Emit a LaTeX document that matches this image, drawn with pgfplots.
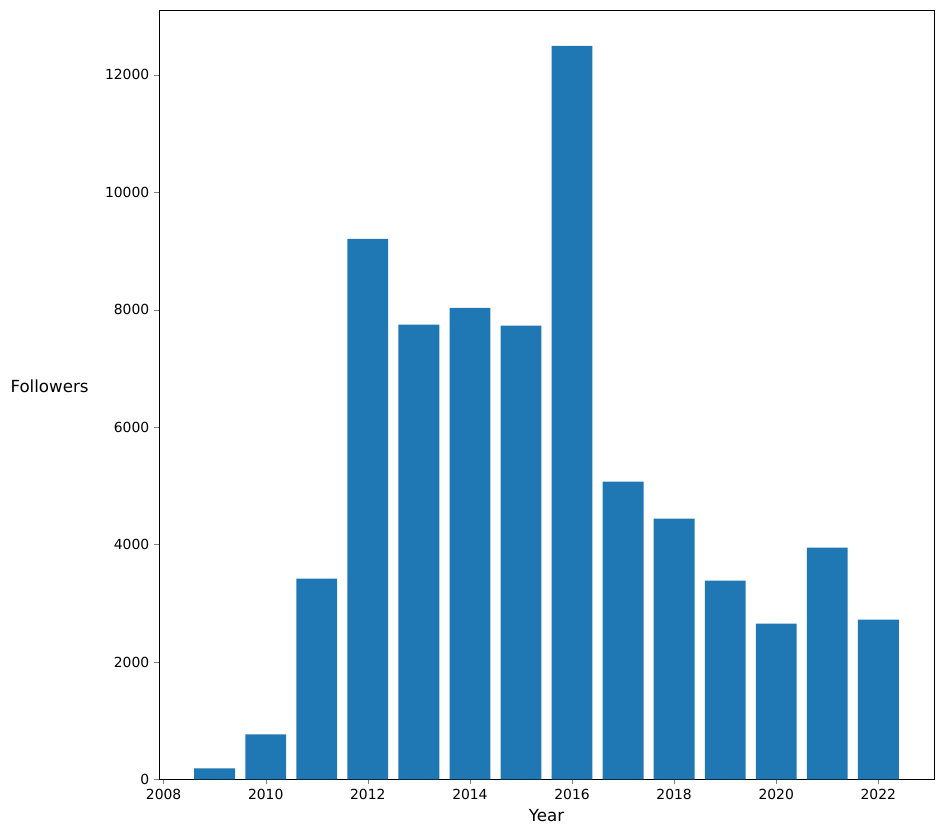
\documentclass[border=0pt]{standalone}
\usepackage{pgfplots}
\pgfplotsset{compat=1.18}
\usepackage{fontspec}
\setmainfont{DejaVu Sans}
\usetikzlibrary{calc}
\definecolor{mplblue}{HTML}{1F77B4}

\begin{document}
\begin{tikzpicture}[x=1pt,y=1pt]
  \begin{axis}[
    scale only axis,
    width=558pt, height=554pt,
    xmin=2007.91, xmax=2023.09,
    ymin=0, ymax=13106,
    xtick={2008,2010,...,2022},
    ytick={0,2000,...,12000},
    scaled ticks=false,
    tick align=outside,
    xtick pos=left, ytick pos=left,
    major tick length=3.5pt,
    /pgf/number format/1000 sep={},
    /pgf/number format/assume math mode=true,
    tick label style={font=\fontsize{10}{12}\selectfont},
    label style={font=\fontsize{12}{14}\selectfont},
    xlabel={Year},
    ylabel={Followers},
    every axis y label/.style={at={(ticklabel cs:0.5)}, anchor=east,
      xshift=-5pt, yshift=6pt, font=\fontsize{12}{14}\selectfont},
    axis line style={line width=0.6pt},
  ]
    \addplot[ybar, bar width=0.8, fill=mplblue, draw=none] coordinates {
      (2009, 187)
      (2010, 766)
      (2011, 3421)
      (2012, 9208)
      (2013, 7745)
      (2014, 8034)
      (2015, 7728)
      (2016, 12494)
      (2017, 5072)
      (2018, 4443)
      (2019, 3387)
      (2020, 2655)
      (2021, 3949)
      (2022, 2723)
    };
  \end{axis}
  \path[use as bounding box]
    ($(current axis.south west)+(-114.5pt,-38.9pt)$)
    rectangle
    ($(current axis.north east)+(6.5pt,7.2pt)$);
\end{tikzpicture}
\end{document}
